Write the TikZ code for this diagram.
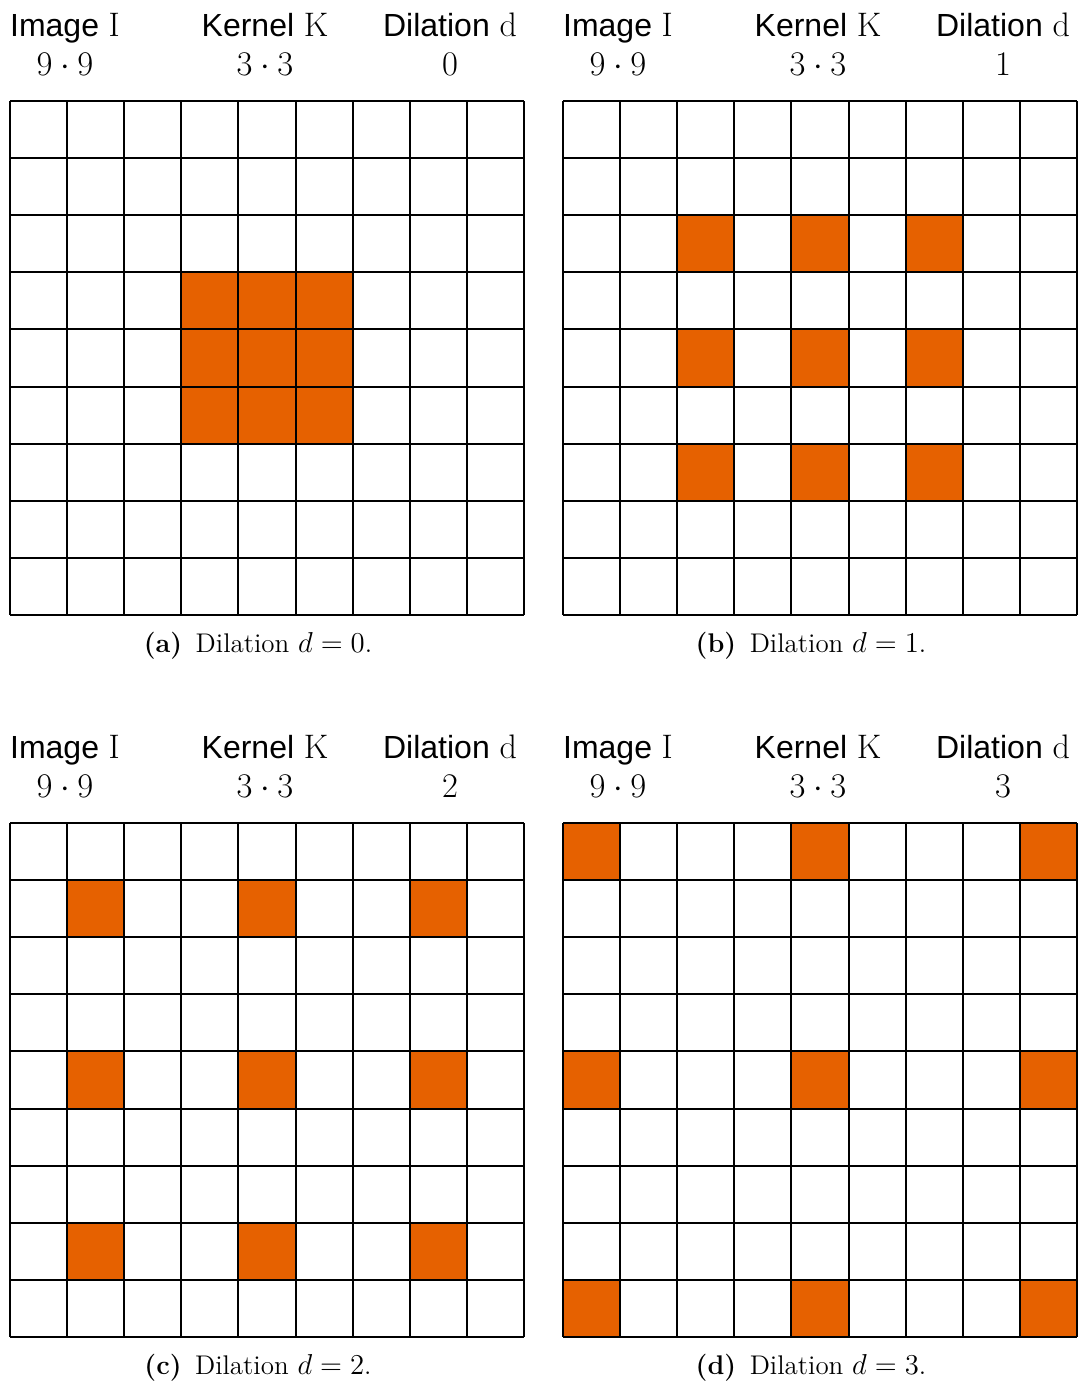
\documentclass[tikz,border=0pt]{standalone}
\usepackage{fontspec}
\newfontfamily\headfont{Liberation Sans}
\usetikzlibrary{positioning}
\definecolor{dilOrange}{HTML}{E66100}

\begin{document}
\begin{tikzpicture}[
    x=0.5pt,y=-0.5pt,
    line width=1pt,
    hdr/.style={anchor=base,inner sep=0pt,font=\fontsize{16}{18}\selectfont},
    hdrnum/.style={anchor=base,inner sep=0pt,font=\fontsize{17.5}{20}\selectfont},
    captext/.style={anchor=base,inner sep=0pt,font=\fontsize{13.5}{15}\selectfont},
  ]
  \useasboundingbox (0,0) rectangle (1078,1382);
  % one cell of the 9x9 image
  \def\cell{57.111}
  \foreach \ox/\oy/\d/\pn in {0/0/0/a, 553/0/1/b, 0/722/2/c, 553/722/3/d}{
    \begin{scope}[shift={(\ox,\oy)}]
      % headers
      \node[hdr] (img\pn) at (65,36) {{\headfont Image} {\fontsize{17}{18}\selectfont I}};
      \node[hdr] (ker\pn) at (265,36) {{\headfont Kernel} {\fontsize{17}{18}\selectfont K}};
      \node[hdr] (dil\pn) at (450,36) {{\headfont Dilation} {\fontsize{17}{18}\selectfont d}};
      \node[hdrnum] (imgsize\pn) at (65,75) {$9\cdot9$};
      \node[hdrnum] (kersize\pn) at (265,75) {$3\cdot3$};
      \node[hdrnum] (dilval\pn) at (450,75) {$\d$};

      % kernel taps, spread by the dilation
      \foreach \i in {-1,0,1}
        \foreach \j in {-1,0,1}{
          \pgfmathsetmacro{\cx}{10+(4+\i*(\d+1))*\cell}
          \pgfmathsetmacro{\cy}{101+(4+\j*(\d+1))*\cell}
          \fill[dilOrange] (\cx,\cy) rectangle ++(\cell,\cell);
        }

      % the grid
      \foreach \k in {0,...,9}{
        \draw (10+\k*\cell,101) -- (10+\k*\cell,615);
        \draw (10,101+\k*\cell) -- (524,101+\k*\cell);
      }

      % caption
      \node[captext] (cap\pn) at (258,652) {\textbf{(\pn)}\enspace Dilation $d=\d$.};
    \end{scope}
  }
\end{tikzpicture}
\end{document}
